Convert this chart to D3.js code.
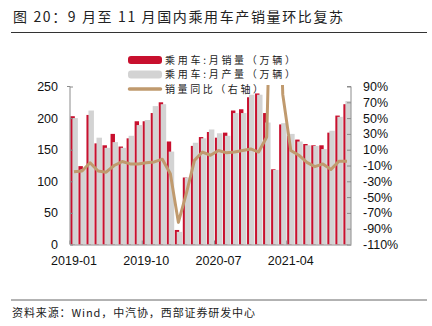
<!DOCTYPE html>
<html><head><meta charset="utf-8">
<script src="https://cdn.jsdelivr.net/npm/d3@7/dist/d3.min.js"></script>
<style>
body{margin:0;background:#fff;}
svg{display:block;}
.cjk{font-family:"Noto Sans CJK SC","Noto Sans",sans-serif;}
.num{font-family:"Liberation Sans",Arial,sans-serif;}
</style></head>
<body>
<svg id="c" width="432" height="326"></svg>
<script>
const months = [
 "2019-01","2019-02","2019-03","2019-04","2019-05","2019-06","2019-07","2019-08","2019-09","2019-10","2019-11","2019-12",
 "2020-01","2020-02","2020-03","2020-04","2020-05","2020-06","2020-07","2020-08","2020-09","2020-10","2020-11","2020-12",
 "2021-01","2021-02","2021-03","2021-04","2021-05","2021-06","2021-07","2021-08","2021-09","2021-10","2021-11"];
const sales = [203,124,205,160,157,175,155,168,195,195,208,225,
 163,23,106,156,170,178,169,177,212,214,233,239,
 208,119,190,172,166,159,157,157,177,204,222];
const production = [200,119,212,169,153,162,153,172,189,197,219,222,
 147,20,106,161,168,182,176,172,208,208,237,237,
 193,118,192,175,163,157,156,151,180,202,227];
const salesYoY = [-18,-17,-6.5,-17,-18.5,-10,-5,-8,-8,-6.5,-5.5,-2,
 -20.5,-82,-45,-3.5,7,3,9,6,7,9,11,7,
 26,420,80,9,3,-6,-11.5,-8,-15,-4.5,-4.5];
const xTickLabels = ["2019-01","2019-10","2020-07","2021-04"];
const leftTicks = [0,50,100,150,200,250];
const rightTicks = [90,70,50,30,10,-10,-30,-50,-70,-90,-110];
const legendItems = ["乘用车:月销量（万辆）","乘用车:月产量（万辆）","销量同比（右轴）"];
const titleText = "图 20：9 月至 11 月国内乘用车产销量环比复苏";
const sourceText = "资料来源：Wind，中汽协，西部证券研发中心";

const svg = d3.select("#c");
const L = 70, R = 351, T = 86.5, B = 244.5;
const RED = "#c8102e", GRAY = "#d3d3d3", TAN = "#c09a6e", AX = "#8c8c8c";

const x = d3.scaleBand().domain(months).range([L, R]).padding(0);
const yL = d3.scaleLinear().domain([0, 250]).range([B, T]);
const yR = d3.scaleLinear().domain([-110, 90]).range([B, T]);
const bw = x.bandwidth();

// title
svg.append("text").attr("class","cjk").attr("x",13).attr("y",22)
  .attr("font-size",14).attr("fill","#222")
  .attr("textLength",330).attr("lengthAdjust","spacing").text(titleText);
svg.append("line").attr("x1",11).attr("x2",427).attr("y1",32.5).attr("y2",32.5)
  .attr("stroke","#333").attr("stroke-width",1);

// bars
const g = svg.append("g");
g.selectAll("rect.s").data(months).join("rect").attr("class","s")
  .attr("x", d => x(d) + bw*0.05).attr("width", bw*0.55)
  .attr("y", (d,i) => yL(sales[i])).attr("height", (d,i) => B - yL(sales[i]))
  .attr("fill", RED);
g.selectAll("rect.p").data(months).join("rect").attr("class","p")
  .attr("x", d => x(d) + bw*0.3).attr("width", bw*0.68)
  .attr("y", (d,i) => yL(production[i])).attr("height", (d,i) => B - yL(production[i]))
  .attr("fill", GRAY);

// line
svg.append("clipPath").attr("id","clip").append("rect")
  .attr("x",L).attr("y",T-1.5).attr("width",R-L).attr("height",B-T+1.5);
const line = d3.line().x((d,i) => x(months[i]) + bw/2).y(d => yR(d)).curve(d3.curveLinear);
svg.append("path").datum(salesYoY).attr("d", line).attr("fill","none")
  .attr("stroke",TAN).attr("stroke-width",3).attr("stroke-linejoin","round")
  .attr("clip-path","url(#clip)");

// axes
const axL = d3.axisLeft(yL).tickValues(leftTicks).tickSize(-3).tickPadding(12);
const gL = svg.append("g").attr("transform",`translate(${L},0)`).call(axL);
const axR = d3.axisRight(yR).tickValues(rightTicks).tickSize(-4).tickFormat(d => d + "%").tickPadding(12);
const gR = svg.append("g").attr("transform",`translate(${R},0)`).call(axR);
const axB = d3.axisBottom(x).tickValues(xTickLabels).tickSize(0).tickPadding(12);
const gB = svg.append("g").attr("transform",`translate(0,${B})`).call(axB);
[gL,gR,gB].forEach(a => {
  a.selectAll("text").attr("class","num").attr("font-size",12.5).attr("fill","#111");
  a.select(".domain").attr("stroke",AX);
  a.selectAll(".tick line").attr("stroke",AX);
});
gL.select(".domain").attr("d",`M-3,${T}H0V${B}`);
gR.select(".domain").attr("d",`M-4,${T}H0V${B}`);
gB.selectAll("line.bt").data(xTickLabels).join("line").attr("class","bt")
  .attr("x1", d => x(d)).attr("x2", d => x(d)).attr("y1",0).attr("y2",-4).attr("stroke",AX);

// legend
const lg = svg.append("g");
const ly = [60, 74.5, 89];
const lLen = [130, 130, 98];
lg.append("rect").attr("x",128).attr("y",ly[0]-4).attr("width",34).attr("height",8).attr("rx",3).attr("fill",RED);
lg.append("rect").attr("x",128).attr("y",ly[1]-4).attr("width",34).attr("height",8).attr("rx",3).attr("fill",GRAY);
lg.append("line").attr("x1",129.5).attr("x2",160.5).attr("y1",ly[2]).attr("y2",ly[2])
  .attr("stroke",TAN).attr("stroke-width",3.5).attr("stroke-linecap","round");
lg.selectAll("text").data(legendItems).join("text").attr("class","cjk")
  .attr("x",165).attr("y",(d,i) => ly[i] + 3.6).attr("font-size",10)
  .attr("textLength",(d,i) => lLen[i]).attr("lengthAdjust","spacing")
  .attr("fill","#222").text(d => d);

// footer
svg.append("line").attr("x1",11).attr("x2",427).attr("y1",300).attr("y2",300)
  .attr("stroke","#666").attr("stroke-width",1);
svg.append("text").attr("class","cjk").attr("x",12).attr("y",317)
  .attr("font-size",11).attr("textLength",243).attr("lengthAdjust","spacing")
  .attr("fill","#222").text(sourceText);
</script>
</body></html>
